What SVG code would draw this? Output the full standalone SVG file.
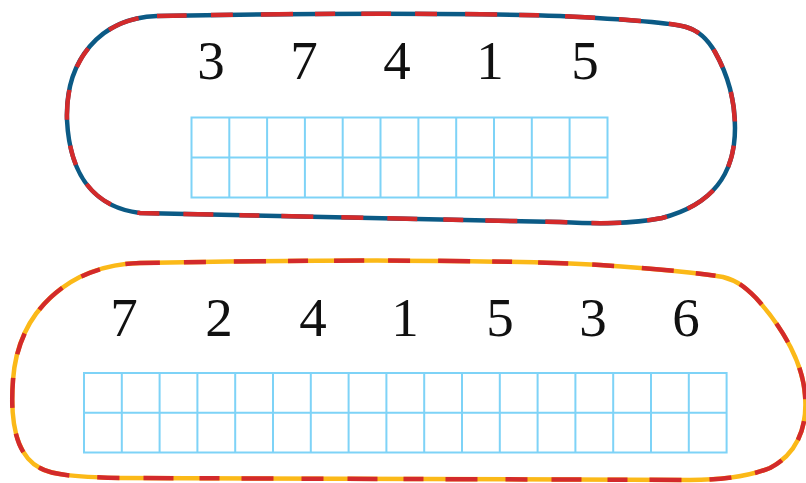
<svg xmlns="http://www.w3.org/2000/svg" width="806" height="483" viewBox="0 0 806 483">
<style>
.grid{fill:none;stroke:#7ed3f7;stroke-width:2}
.num{font-family:"Liberation Serif",serif;font-size:55px;fill:#111;text-anchor:middle}
.base1{fill:none;stroke:#0b5a85;stroke-width:4.5}
.base2{fill:none;stroke:#fbb918;stroke-width:4.5}
.red{fill:none;stroke:#d32a2b;stroke-width:4.5;stroke-dasharray:30 24 22 28 32 22 20 26}
</style>
<defs>
<path id="p1" d="M157,16 C300,13 480,13 560,16 C620,19 668,22 686,27 C700,31 708,40 715,52 C728,75 735,100 735,128 C735,175 712,205 662,218 C630,224 600,224 560,222 L140,213 C100,208 70,182 67,120 C65,60 100,18 157,16 Z"/>
<path id="p2" d="M140,263 C300,260 500,259 600,265 C660,269 700,273 723,277 C738,281 746,288 756,298 C785,330 803,365 805,395 C808,430 795,455 770,468 C745,478 715,480 690,480 L120,478 C70,477 50,474 40,468 C15,455 10,420 13,380 C18,310 70,265 140,263 Z"/>
</defs>
<g id="blob-top">
<use href="#p1" class="base1"/>
<use href="#p1" class="red"/>
</g>
<g id="blob-bottom">
<use href="#p2" class="base2"/>
<use href="#p2" class="red" style="stroke-dashoffset:10"/>
</g>
<g id="numbers-top">
<text class="num" x="211" y="79">3</text>
<text class="num" x="304" y="79">7</text>
<text class="num" x="397" y="79">4</text>
<text class="num" x="490" y="79">1</text>
<text class="num" x="585" y="79">5</text>
</g>
<g id="grid-top">
<rect class="grid" x="191.5" y="117.5" width="416" height="80"/>
<path class="grid" d="M191.5,157.5H607.5M229.3,117.5V197.5M267.1,117.5V197.5M304.9,117.5V197.5M342.7,117.5V197.5M380.5,117.5V197.5M418.4,117.5V197.5M456.2,117.5V197.5M494,117.5V197.5M531.8,117.5V197.5M569.6,117.5V197.5"/>
</g>
<g id="numbers-bottom">
<text class="num" x="124" y="336">7</text>
<text class="num" x="219" y="336">2</text>
<text class="num" x="313" y="336">4</text>
<text class="num" x="405" y="336">1</text>
<text class="num" x="500" y="336">5</text>
<text class="num" x="593" y="336">3</text>
<text class="num" x="686" y="336">6</text>
</g>
<g id="grid-bottom">
<rect class="grid" x="84" y="373" width="642.6" height="79.5"/>
<path class="grid" d="M84,412.7H726.6M121.8,373V452.5M159.6,373V452.5M197.4,373V452.5M235.2,373V452.5M273,373V452.5M310.8,373V452.5M348.6,373V452.5M386.4,373V452.5M424.2,373V452.5M462,373V452.5M499.8,373V452.5M537.6,373V452.5M575.4,373V452.5M613.2,373V452.5M651,373V452.5M688.8,373V452.5"/>
</g>
</svg>
